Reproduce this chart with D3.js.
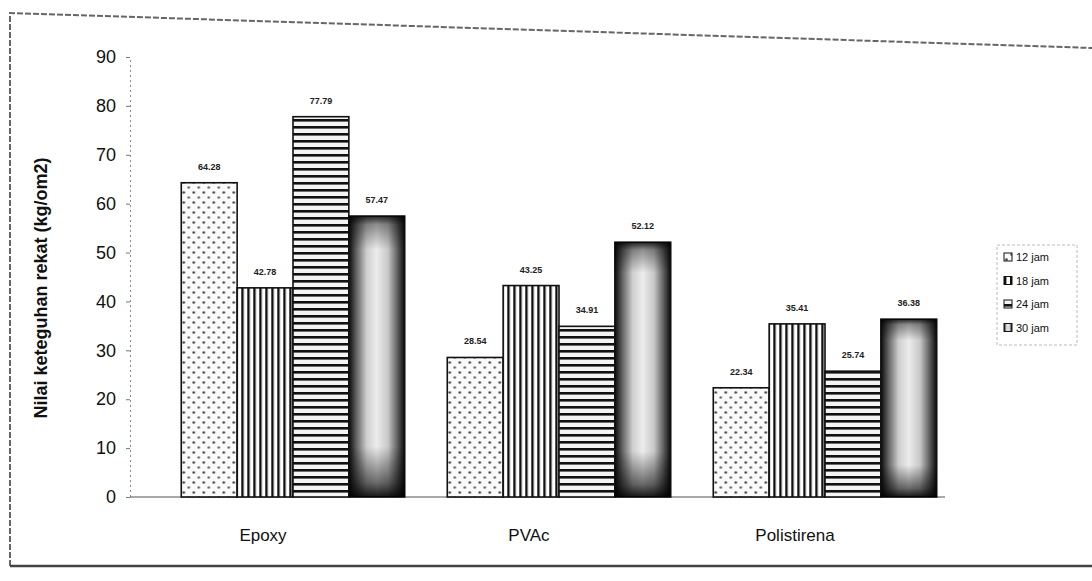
<!DOCTYPE html>
<html lang="id">
<head>
    <meta charset="UTF-8">
    <title>Nilai keteguhan rekat</title>
    <script src="https://d3js.org/d3.v7.min.js"></script>
    <style>
        body { margin: 0; background: #fff; font-family: Arial, "Liberation Sans", sans-serif; }
        .value-label { font-size: 9px; font-weight: bold; text-anchor: middle; fill: #222; }
        .cat-label { font-size: 17px; text-anchor: middle; fill: #111; }
        .axis-title { font-size: 18px; font-weight: bold; text-anchor: middle; fill: #111; }
        .legend-text { font-size: 11px; fill: #111; }
    </style>
</head>
<body>
    <svg width="1092" height="581"></svg>
    <script>
        const categories = ["Epoxy", "PVAc", "Polistirena"];
        const seriesNames = ["12 jam", "18 jam", "24 jam", "30 jam"];
        const jam12 = [64.28, 28.54, 22.34];
        const jam18 = [42.78, 43.25, 35.41];
        const jam24 = [77.79, 34.91, 25.74];
        const jam30 = [57.47, 52.12, 36.38];
        const yTicks = [0, 10, 20, 30, 40, 50, 60, 70, 80, 90];

        const seriesValues = [jam12, jam18, jam24, jam30];
        const data = categories.map((c, i) => ({
            cat: c,
            values: seriesNames.map((s, j) => ({ series: s, idx: j, value: seriesValues[j][i] }))
        }));

        const svg = d3.select("svg");
        const defs = svg.append("defs");

        // 12 jam: dots
        const pDot = defs.append("pattern").attr("id", "p0")
            .attr("patternUnits", "userSpaceOnUse").attr("width", 10).attr("height", 10);
        pDot.append("rect").attr("width", 10).attr("height", 10).attr("fill", "#fafafa");
        pDot.append("circle").attr("cx", 2.5).attr("cy", 2.5).attr("r", 1.3).attr("fill", "#444");
        pDot.append("circle").attr("cx", 7.5).attr("cy", 7.5).attr("r", 1.3).attr("fill", "#666");

        // 18 jam: vertical stripes
        const pV = defs.append("pattern").attr("id", "p1")
            .attr("patternUnits", "userSpaceOnUse").attr("width", 6).attr("height", 6);
        pV.append("rect").attr("width", 6).attr("height", 6).attr("fill", "#fff");
        pV.append("rect").attr("x", 0).attr("width", 2.4).attr("height", 6).attr("fill", "#111");

        // 24 jam: horizontal stripes
        const pH = defs.append("pattern").attr("id", "p2")
            .attr("patternUnits", "userSpaceOnUse").attr("width", 6).attr("height", 7);
        pH.append("rect").attr("width", 6).attr("height", 7).attr("fill", "#f4f4f4");
        pH.append("rect").attr("y", 0).attr("width", 6).attr("height", 2.6).attr("fill", "#111");

        // 30 jam: dark sides, light centre band
        const g30 = defs.append("linearGradient").attr("id", "p3")
            .attr("x1", "0%").attr("x2", "100%").attr("y1", "0%").attr("y2", "0%");
        [["0%", "#0a0a0a"], ["14%", "#666"], ["32%", "#cfcfcf"], ["50%", "#ececec"],
         ["70%", "#c8c8c8"], ["86%", "#666"], ["100%", "#0a0a0a"]].forEach(s =>
            g30.append("stop").attr("offset", s[0]).attr("stop-color", s[1]));
        // top / bottom shading overlay
        const g30v = defs.append("linearGradient").attr("id", "p3v")
            .attr("x1", "0%").attr("x2", "0%").attr("y1", "0%").attr("y2", "100%");
        [["0%", 0.85], ["3%", 0.4], ["12%", 0], ["82%", 0], ["95%", 0.55], ["100%", 0.9]].forEach(s =>
            g30v.append("stop").attr("offset", s[0]).attr("stop-color", "#000").attr("stop-opacity", s[1]));

        const fills = ["url(#p0)", "url(#p1)", "url(#p2)", "url(#p3)"];

        // scanned page frame
        svg.append("path")
            .attr("d", "M10,566 L10,13 L1092,48")
            .attr("fill", "none").attr("stroke", "#666").attr("stroke-width", 2)
            .attr("stroke-dasharray", "6,2");
        svg.append("line").attr("x1", 10).attr("x2", 1092).attr("y1", 566).attr("y2", 566)
            .attr("stroke", "#444").attr("stroke-width", 2.5);

        const x0 = d3.scaleBand().domain(categories).range([160, 958])
            .paddingInner(0.16).paddingOuter(0.08);
        const x1 = d3.scaleBand().domain(seriesNames).range([0, x0.bandwidth()]);
        const y = d3.scaleLinear().domain([0, 90]).range([497, 57]);

        // y axis
        const yAxis = svg.append("g").attr("transform", "translate(130,0)")
            .call(d3.axisLeft(y).tickValues(yTicks).tickSize(4).tickPadding(10));
        yAxis.select(".domain").attr("stroke", "#888").attr("stroke-dasharray", "2,3");
        yAxis.selectAll(".tick line").attr("stroke", "#777");
        yAxis.selectAll(".tick text").attr("font-size", 18).attr("font-family", "Arial, sans-serif").attr("fill", "#111");

        // baseline
        svg.append("line").attr("x1", 130).attr("x2", 945)
            .attr("y1", y(0)).attr("y2", y(0))
            .attr("stroke", "#555").attr("stroke-width", 1.2);

        const groups = svg.selectAll(".grp").data(data).enter().append("g")
            .attr("class", "grp")
            .attr("transform", d => `translate(${x0(d.cat)},0)`);

        groups.selectAll(".bar").data(d => d.values).enter().append("rect")
            .attr("class", "bar")
            .attr("x", d => x1(d.series))
            .attr("y", d => y(d.value))
            .attr("width", x1.bandwidth())
            .attr("height", d => y(0) - y(d.value))
            .attr("fill", d => fills[d.idx])
            .attr("stroke", "#111").attr("stroke-width", 1.6);

        groups.selectAll(".shade").data(d => d.values.filter(v => v.idx === 3)).enter().append("rect")
            .attr("class", "shade")
            .attr("x", d => x1(d.series))
            .attr("y", d => y(d.value))
            .attr("width", x1.bandwidth())
            .attr("height", d => y(0) - y(d.value))
            .attr("fill", "url(#p3v)");

        groups.selectAll(".value-label").data(d => d.values).enter().append("text")
            .attr("class", "value-label")
            .attr("x", d => x1(d.series) + x1.bandwidth() / 2)
            .attr("y", d => y(d.value) - 13)
            .text(d => d.value.toFixed(2));

        // category labels
        svg.selectAll(".cat-label").data(categories).enter().append("text")
            .attr("class", "cat-label")
            .attr("x", d => x0(d) + x0.bandwidth() / 2 - 30)
            .attr("y", 541)
            .text(d => d);

        // y axis title
        svg.append("text").attr("class", "axis-title")
            .attr("transform", "translate(47,288) rotate(-90)")
            .text("Nilai keteguhan rekat (kg/om2)");

        // legend
        const legend = svg.append("g").attr("transform", "translate(997,245)");
        legend.append("rect").attr("width", 80).attr("height", 100)
            .attr("fill", "#fff").attr("stroke", "#bbb").attr("stroke-dasharray", "3,2");
        legend.selectAll("g").data(seriesNames).enter().append("g")
            .attr("transform", (d, i) => `translate(7,${12 + i * 23.5})`)
            .each(function (d, i) {
                const g = d3.select(this);
                g.append("rect").attr("x", 0).attr("y", -4).attr("width", 8).attr("height", 8)
                    .attr("fill", fills[i]).attr("stroke", "#111").attr("stroke-width", 1);
                g.append("text").attr("class", "legend-text").attr("x", 12).attr("y", 4).text(d);
            });
    </script>
</body>
</html>
